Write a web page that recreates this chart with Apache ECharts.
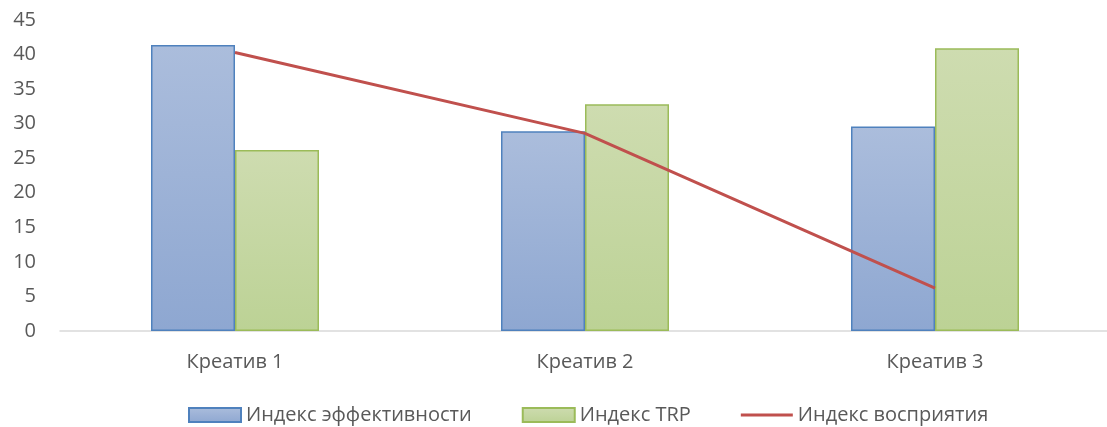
<!DOCTYPE html>
<html>
<head>
<meta charset="utf-8">
<script src="https://cdn.jsdelivr.net/npm/echarts@6/dist/echarts.min.js"></script>
<style>
  html, body { margin: 0; padding: 0; background: #fff; }
  #chart { width: 1107px; height: 427px; }
</style>
</head>
<body>
<div id="chart"></div>
<script>
// Datos del gráfico
var categorias = ['Креатив 1', 'Креатив 2', 'Креатив 3'];
var indiceEfectividad = [41.4, 28.9, 29.6];
var indiceTRP = [26.2, 32.8, 40.9];
var indicePercepcion = [40.3, 28.6, 6.2];

var fuente = '"Open Sans", "Liberation Sans", sans-serif';

function gradiente(arriba, abajo) {
    return {
        type: 'linear', x: 0, y: 0, x2: 0, y2: 1,
        colorStops: [{ offset: 0, color: arriba }, { offset: 1, color: abajo }]
    };
}

var chart = echarts.init(document.getElementById('chart'));

var option = {
    animation: false,
    textStyle: { fontFamily: fuente },
    grid: { left: 60, width: 1050, top: 20, bottom: 96, outerBoundsMode: 'none' },
    legend: {
        top: 400,
        left: 183,
        itemWidth: 52,
        itemHeight: 14,
        itemGap: 50,
        textStyle: { color: '#595959', fontSize: 20, fontFamily: fuente },
        data: [
            { name: 'Индекс эффективности', icon: 'rect' },
            { name: 'Индекс TRP', icon: 'rect' },
            { name: 'Индекс восприятия', icon: 'path://M0,0 L52,0 L52,3 L0,3 Z' }
        ]
    },
    xAxis: {
        type: 'category',
        data: categorias,
        axisLine: { lineStyle: { color: '#d9d9d9', width: 1.5 } },
        axisTick: { show: false },
        axisLabel: { color: '#595959', fontSize: 20, margin: 21 }
    },
    yAxis: {
        type: 'value',
        min: 0,
        max: 45,
        interval: 5,
        axisLine: { show: false },
        axisTick: { show: false },
        splitLine: { show: false },
        axisLabel: { color: '#595959', fontSize: 20, margin: 24 }
    },
    series: [{
        name: 'Индекс эффективности',
        type: 'bar',
        data: indiceEfectividad,
        barWidth: 84,
        barGap: '0%',
        itemStyle: {
            color: gradiente('#abbddc', '#8ea7d1'),
            borderColor: '#4f81bd',
            borderWidth: 1.5
        }
    }, {
        name: 'Индекс TRP',
        type: 'bar',
        data: indiceTRP,
        barWidth: 84,
        barGap: '0%',
        itemStyle: {
            color: gradiente('#cedcb0', '#bcd295'),
            borderColor: '#9bbb59',
            borderWidth: 1.5
        }
    }, {
        name: 'Индекс восприятия',
        type: 'line',
        data: indicePercepcion,
        symbol: 'none',
        lineStyle: { color: '#c0504d', width: 3 },
        itemStyle: { color: '#c0504d' }
    }]
};

chart.setOption(option);
</script>
</body>
</html>
